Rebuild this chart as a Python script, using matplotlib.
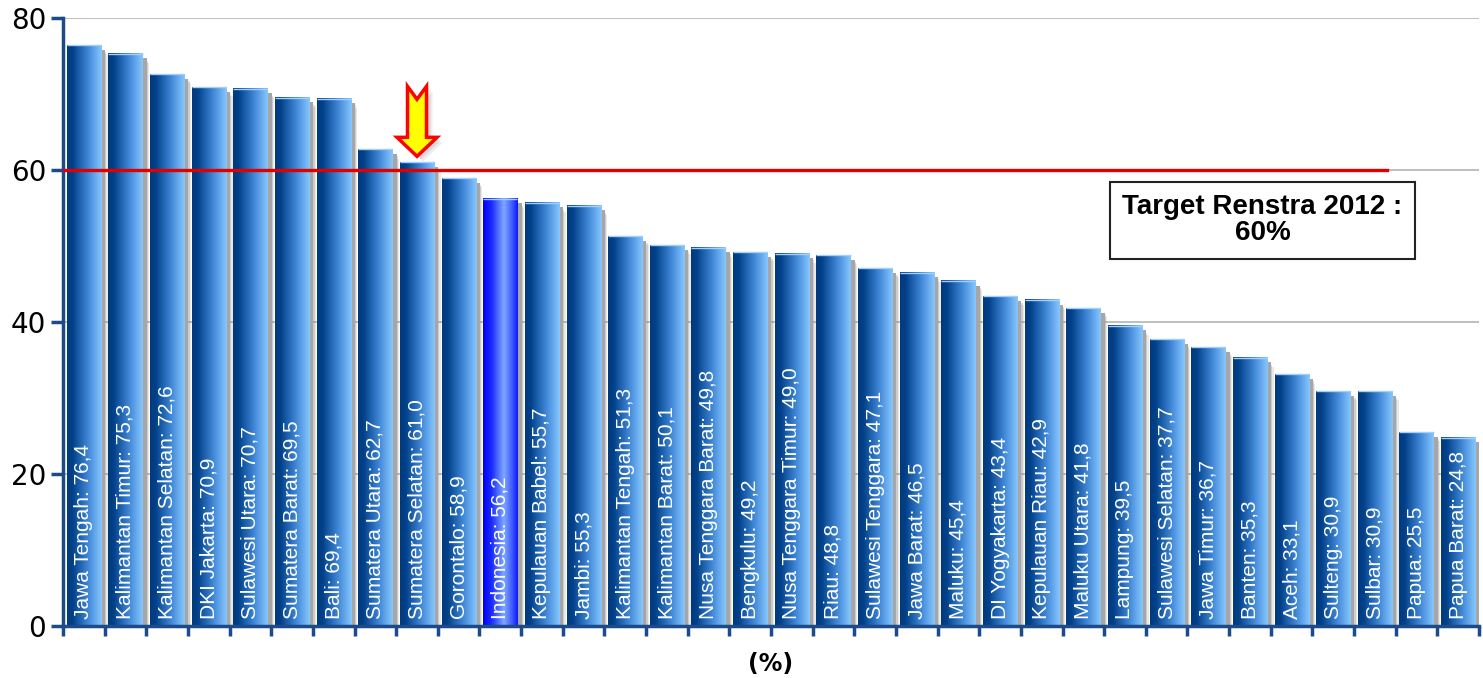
import numpy as np
import matplotlib
matplotlib.use("Agg")
import matplotlib.pyplot as plt
from matplotlib.colors import LinearSegmentedColormap
from matplotlib.patches import Polygon
import matplotlib.transforms as mtransforms

provinces = ["Jawa Tengah", "Kalimantan Timur", "Kalimantan Selatan", "DKI Jakarta",
             "Sulawesi Utara", "Sumatera Barat", "Bali", "Sumatera Utara",
             "Sumatera Selatan", "Gorontalo", "Indonesia", "Kepulauan Babel", "Jambi",
             "Kalimantan Tengah", "Kalimantan Barat", "Nusa Tenggara Barat", "Bengkulu",
             "Nusa Tenggara Timur", "Riau", "Sulawesi Tenggara", "Jawa Barat", "Maluku",
             "DI Yogyakarta", "Kepulauan Riau", "Maluku Utara", "Lampung",
             "Sulawesi Selatan", "Jawa Timur", "Banten", "Aceh", "Sulteng", "Sulbar",
             "Papua", "Papua Barat"]
values = [76.4, 75.3, 72.6, 70.9, 70.7, 69.5, 69.4, 62.7, 61.0, 58.9, 56.2, 55.7, 55.3,
          51.3, 50.1, 49.8, 49.2, 49.0, 48.8, 47.1, 46.5, 45.4, 43.4, 42.9, 41.8, 39.5,
          37.7, 36.7, 35.3, 33.1, 30.9, 30.9, 25.5, 24.8]
highlight = "Indonesia"
target_value = 60
target_text = "Target Renstra 2012 :\n60%"
arrow_at = "Sumatera Selatan"
yticks = [0, 20, 40, 60, 80]
xlabel = "(%)"

navy = "#1d4b8a"
fig = plt.figure(figsize=(14.83, 6.78), dpi=100)
ax = fig.add_axes([63/1483, 1 - 626/678, (1479 - 63)/1483, (626 - 18)/678])

x = np.arange(len(values))
vals = np.array(values)
width = 0.82

# shadows (soft gray, offset to the right)
ax.bar(x + 0.10, vals - 0.6, width=width, color="#a6a6a6", zorder=1, lw=0)
for off, drop, a in [(0.13, 0.9, 0.3), (0.16, 1.2, 0.18)]:
    ax.bar(x + off, vals - drop, width=width, color="#8a8a8a", alpha=a, zorder=0.9, lw=0)

bars = ax.bar(x, vals, width=width, color="none", lw=0, zorder=2)

cmap_norm = LinearSegmentedColormap.from_list(
    "b", [(0, "#003a7c"), (0.15, "#003f87"), (0.6, "#3f86d6"), (1.0, "#88c8ff")])
cmap_hi = LinearSegmentedColormap.from_list(
    "h", [(0, "#0000f5"), (0.25, "#1a2cff"), (0.6, "#7fa8ff"), (0.85, "#3a55ff"), (1.0, "#0a14ff")])
grad = np.linspace(0, 1, 256).reshape(1, -1)

for name, p, v in zip(provinces, bars.patches, values):
    x0, w, h = p.get_x(), p.get_width(), p.get_height()
    cm = cmap_hi if name == highlight else cmap_norm
    ax.imshow(grad, extent=[x0, x0 + w, 0, h], aspect="auto", cmap=cm,
              interpolation="bicubic", zorder=2)
    ax.plot([x0, x0 + w], [h, h], color="#9fd0ff", lw=1, zorder=2.5,
            solid_capstyle="butt")
    label = f"{name}: {v:.1f}".replace(".", ",")
    ax.text(x0 + w / 2, 0.9, label, rotation=90, ha="center", va="bottom",
            color="white", fontsize=15, family="Liberation Sans", zorder=4)

ax.set_xlim(-0.5, len(values) - 0.5)
ax.set_ylim(0, 80)

ax.set_yticks(yticks)
ax.yaxis.grid(True, color="#b4b4b4", lw=1.2)
ax.set_axisbelow(True)

# target line
ax.plot([-0.5, 31.3], [target_value, target_value], color="#e00000", lw=2.4, zorder=5)

# target box
ax.text(28.3, 53.4, target_text, ha="center", va="center", fontsize=20,
        fontweight="bold", family="Liberation Sans", linespacing=1.0, zorder=6,
        bbox=dict(boxstyle="square,pad=0.45", fc="white", ec="#222222", lw=1.5))

# arrow
ai = provinces.index(arrow_at)
tip_y = values[ai] + 0.8
verts = np.array([(0, 0), (20, 19), (9.5, 19), (9.5, 70), (0, 57), (-9.5, 70),
                  (-9.5, 19), (-20, 19)]) / 100.0
for dx, dy, a in [(0.06, -0.05, 0.15), (0.04, -0.03, 0.18), (0.02, -0.01, 0.2)]:
    tr_s = fig.dpi_scale_trans + mtransforms.ScaledTranslation(ai, tip_y, ax.transData)
    ax.add_patch(Polygon(verts + np.array([dx, dy]), closed=True, fc="#808080", ec="none",
                         alpha=a, transform=tr_s, zorder=6, clip_on=False))
tr = fig.dpi_scale_trans + mtransforms.ScaledTranslation(ai, tip_y, ax.transData)
ax.add_patch(Polygon(verts, closed=True, fc="#ffff00", ec="#ff0000", lw=2.5,
                     transform=tr, zorder=7, clip_on=False, joinstyle="miter"))

# axes styling
for s in ["top", "right"]:
    ax.spines[s].set_visible(False)
for s in ["left", "bottom"]:
    ax.spines[s].set_color(navy)
    ax.spines[s].set_linewidth(2.5)
ax.set_xticks(np.arange(-0.5, len(values) + 0.5, 1.0))
ax.set_xticklabels([])
ax.tick_params(axis="x", direction="out", length=7, width=2.5, color=navy)
ax.tick_params(axis="y", direction="out", length=9, width=2.5, color=navy,
               labelsize=20, pad=3)
for t in ax.get_yticklabels():
    t.set_family("DejaVu Sans")
ax.set_xlabel(xlabel, fontsize=17, fontweight="bold", labelpad=8)

fig.savefig("out.png", dpi=100)
